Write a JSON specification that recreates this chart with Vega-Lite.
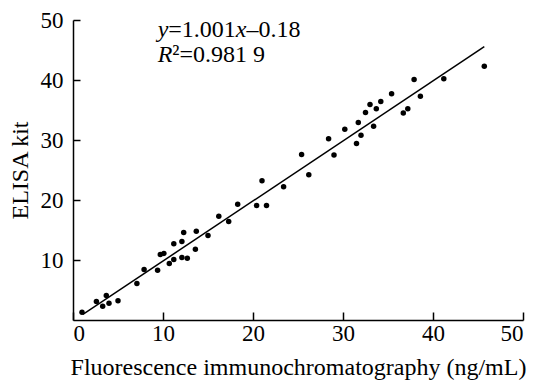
{
  "$schema": "https://vega.github.io/schema/vega-lite/v6.json",
  "width": 450,
  "height": 300,
  "autosize": {"type": "none"},
  "padding": {"left": 73, "top": 20, "right": 13, "bottom": 62},
  "background": "white",
  "config": {
    "view": {"stroke": null},
    "font": "Liberation Serif",
    "axis": {
      "grid": false,
      "domainColor": "black",
      "domainWidth": 1.5,
      "tickColor": "black",
      "tickWidth": 1.5,
      "labelColor": "black",
      "titleColor": "black",
      "labelFont": "Liberation Serif",
      "titleFont": "Liberation Serif",
      "labelFontSize": 23,
      "titleFontSize": 24,
      "titleFontWeight": "normal"
    }
  },
  "layer": [
    {
      "data": {
        "values": [
          {"fic": 1.0, "elisa": 1.3},
          {"fic": 2.6, "elisa": 3.1},
          {"fic": 3.3, "elisa": 2.3},
          {"fic": 3.7, "elisa": 4.1},
          {"fic": 4.0, "elisa": 2.8},
          {"fic": 5.0, "elisa": 3.2},
          {"fic": 7.1, "elisa": 6.1},
          {"fic": 7.9, "elisa": 8.4},
          {"fic": 9.4, "elisa": 8.3},
          {"fic": 9.7, "elisa": 10.9},
          {"fic": 10.1, "elisa": 11.1},
          {"fic": 10.7, "elisa": 9.4},
          {"fic": 11.2, "elisa": 10.1},
          {"fic": 11.2, "elisa": 12.7},
          {"fic": 12.1, "elisa": 10.4},
          {"fic": 12.7, "elisa": 10.3},
          {"fic": 12.1, "elisa": 13.1},
          {"fic": 12.3, "elisa": 14.6},
          {"fic": 13.6, "elisa": 11.8},
          {"fic": 13.7, "elisa": 14.8},
          {"fic": 15.0, "elisa": 14.1},
          {"fic": 16.2, "elisa": 17.3},
          {"fic": 17.3, "elisa": 16.4},
          {"fic": 18.3, "elisa": 19.3},
          {"fic": 20.4, "elisa": 19.1},
          {"fic": 21.5, "elisa": 19.1},
          {"fic": 21.0, "elisa": 23.2},
          {"fic": 23.4, "elisa": 22.2},
          {"fic": 25.4, "elisa": 27.6},
          {"fic": 26.2, "elisa": 24.2},
          {"fic": 28.4, "elisa": 30.2},
          {"fic": 29.0, "elisa": 27.5},
          {"fic": 30.2, "elisa": 31.8},
          {"fic": 31.5, "elisa": 29.4},
          {"fic": 31.7, "elisa": 32.9},
          {"fic": 32.0, "elisa": 30.8},
          {"fic": 32.5, "elisa": 34.6},
          {"fic": 33.0, "elisa": 35.9},
          {"fic": 33.7, "elisa": 35.2},
          {"fic": 33.4, "elisa": 32.3},
          {"fic": 34.2, "elisa": 36.4},
          {"fic": 35.4, "elisa": 37.7},
          {"fic": 36.7, "elisa": 34.5},
          {"fic": 37.2, "elisa": 35.2},
          {"fic": 37.9, "elisa": 40.1},
          {"fic": 38.6, "elisa": 37.3},
          {"fic": 41.2, "elisa": 40.2},
          {"fic": 45.7, "elisa": 42.3}
        ]
      },
      "mark": {"type": "circle", "size": 30, "color": "black", "opacity": 1},
      "encoding": {
        "x": {
          "field": "fic",
          "type": "quantitative",
          "scale": {"domain": [0, 50]},
          "axis": {
            "title": "Fluorescence immunochromatography (ng/mL)",
            "values": [0, 10, 20, 30, 40, 50],
            "tickSize": -8,
            "labelPadding": 10,
            "titlePadding": 10
          }
        },
        "y": {
          "field": "elisa",
          "type": "quantitative",
          "scale": {"domain": [0, 50]},
          "axis": {
            "title": "ELISA kit",
            "values": [10, 20, 30, 40, 50],
            "tickSize": -7,
            "labelPadding": 17,
            "titlePadding": 8
          }
        }
      }
    },
    {
      "data": {"values": [{"fic": 1.1, "elisa": 0.92}, {"fic": 45.7, "elisa": 45.57}]},
      "mark": {"type": "line", "color": "black", "strokeWidth": 1.5},
      "encoding": {
        "x": {"field": "fic", "type": "quantitative"},
        "y": {"field": "elisa", "type": "quantitative"}
      }
    },
    {
      "data": {
        "values": [
          {"tx": 9.41, "ty": 47.2, "t": "y"},
          {"tx": 18.09, "ty": 47.2, "t": "x"},
          {"tx": 9.41, "ty": 43.05, "t": "R"}
        ]
      },
      "mark": {"type": "text", "align": "left", "baseline": "alphabetic", "font": "Liberation Serif", "fontStyle": "italic", "fontSize": 24, "color": "black"},
      "encoding": {
        "x": {"field": "tx", "type": "quantitative"},
        "y": {"field": "ty", "type": "quantitative"},
        "text": {"field": "t"}
      }
    },
    {
      "data": {
        "values": [
          {"tx": 10.59, "ty": 47.2, "t": "=1.001"},
          {"tx": 19.27, "ty": 47.2, "t": "–0.18"},
          {"tx": 11.04, "ty": 43.05, "t": "²=0.981 9"}
        ]
      },
      "mark": {"type": "text", "align": "left", "baseline": "alphabetic", "font": "Liberation Serif", "fontSize": 24, "color": "black"},
      "encoding": {
        "x": {"field": "tx", "type": "quantitative"},
        "y": {"field": "ty", "type": "quantitative"},
        "text": {"field": "t"}
      }
    }
  ]
}
